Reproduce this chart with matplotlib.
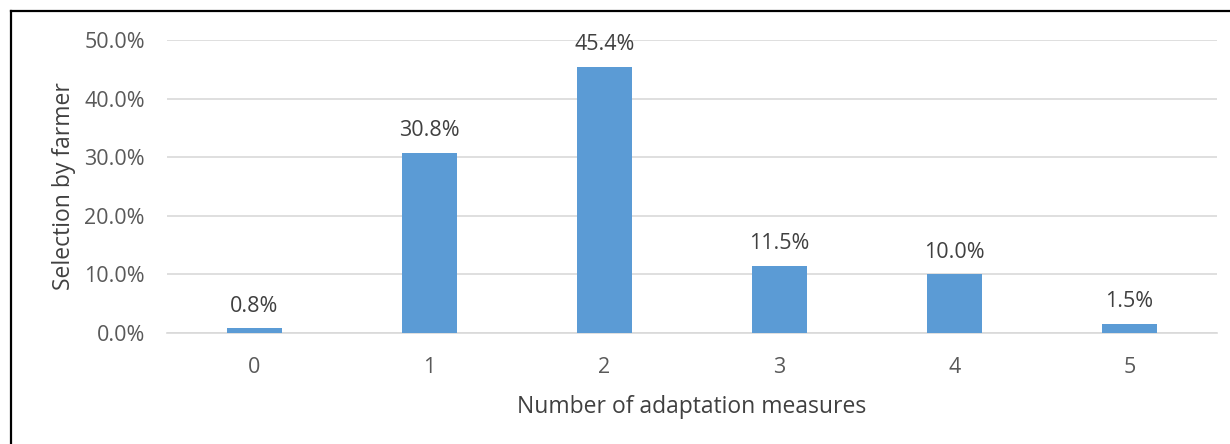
import matplotlib
matplotlib.use("Agg")
import matplotlib.pyplot as plt
from matplotlib.lines import Line2D

categories = ["0", "1", "2", "3", "4", "5"]
values = [0.8, 30.8, 45.4, 11.5, 10.0, 1.5]
yticks = [0, 10, 20, 30, 40, 50]
ytick_labels = ["0.0%", "10.0%", "20.0%", "30.0%", "40.0%", "50.0%"]

plt.rcParams['font.family'] = ['Open Sans', 'DejaVu Sans']
fig = plt.figure(figsize=(12.3, 4.44), dpi=100)
ax = fig.add_axes([167/1230, 1-333/444, 1050/1230, 293/444])

x = list(range(len(categories)))
bars = ax.bar(x, values, width=0.31, color="#5B9BD5", zorder=3)
for xi, v in zip(x, values):
    ax.text(xi, v + 2.0, f"{v:.1f}%", ha="center", va="bottom", fontsize=15.5, color="#404040")

ax.set_xlim(-0.5, 5.5)
ax.set_ylim(0, 50)
ax.set_xticks(x)
ax.set_xticklabels(categories)
ax.set_yticks(yticks)
ax.set_yticklabels(ytick_labels)
ax.tick_params(axis="both", length=0, labelsize=15.5, colors="#595959")
ax.tick_params(axis="x", pad=17)
ax.tick_params(axis="y", pad=16)
ax.grid(axis="y", color="#D9D9D9", linewidth=1.2, zorder=0)
for s in ["top", "right", "left"]:
    ax.spines[s].set_visible(False)
ax.spines["bottom"].set_color("#D9D9D9")
ax.spines["bottom"].set_linewidth(1.2)
ax.set_xlabel("Number of adaptation measures", fontsize=16.5, color="#404040")
ax.set_ylabel("Selection by farmer", fontsize=16.5, color="#404040")
ax.xaxis.set_label_coords(0.5, -(395 - 333) / 293)
ax.yaxis.set_label_coords((76 - 167) / 1050, 0.5)

# partial frame (left and top)
fig.add_artist(Line2D([11/1230, 11/1230], [0, 1-11/444], transform=fig.transFigure, color="black", linewidth=1.6))
fig.add_artist(Line2D([11/1230, 1], [1-11/444, 1-11/444], transform=fig.transFigure, color="black", linewidth=1.6))

fig.savefig("out.png", dpi=100)
